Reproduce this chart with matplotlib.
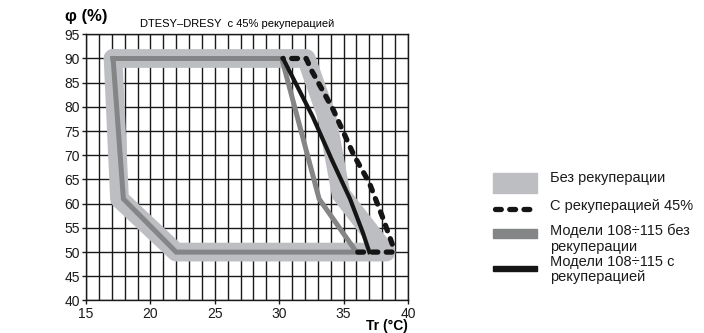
import matplotlib
matplotlib.use('Agg')
import matplotlib.pyplot as plt
from matplotlib.patches import Rectangle
from matplotlib.lines import Line2D

plt.rcParams['font.family'] = ['Liberation Sans', 'DejaVu Sans']

# Без рекуперации (wide light band)
t_base = [17.1, 17.6, 22.0, 38.3, 34.8, 33.7, 32.1, 17.1]
phi_base = [90, 61, 50, 50, 62, 78, 90, 90]

# С рекуперацией 45% (dashed)
t_rec = [36.1, 38.8, 38.8, 38.0, 37.0, 35.8, 34.2, 32.5, 32.1, 30.3]
phi_rec = [50, 50, 51.5, 57.4, 64.3, 70, 79.4, 87.6, 90, 90]

# Модели 108÷115 без рекуперации (dark grey)
t_mod = [17.1, 17.9, 22.0, 36.0, 33.1, 30.2, 17.1]
phi_mod = [90, 61, 50, 50, 61, 90, 90]

# Модели 108÷115 с рекуперацией (black)
t_mod_rec = [30.3, 32.6, 34.1, 35.5, 36.5, 37.0]
phi_mod_rec = [90, 78, 69, 61, 54, 50]

legend_labels = ['Без рекуперации', 'С рекуперацией 45%',
                 'Модели 108÷115 без\nрекуперации', 'Модели 108÷115 с\nрекуперацией']

c_light = '#bdbec1'
c_dark = '#848587'
c_black = '#151515'
dash = (0, (1.1, 1.6))

fig = plt.figure(figsize=(7.04, 3.33), dpi=100)
ax = fig.add_axes([0.1222, 0.0976, 0.4573, 0.7994])

ax.plot(t_base, phi_base, color=c_light, lw=13.5, solid_joinstyle='round',
        solid_capstyle='round', zorder=2)
ax.plot(t_mod, phi_mod, color=c_dark, lw=3.6, solid_joinstyle='miter', zorder=3)
ax.plot(t_mod_rec, phi_mod_rec, color=c_black, lw=3.0, zorder=4)
ax.plot(t_rec, phi_rec, color=c_black, lw=3.8, linestyle=dash,
        dash_capstyle='round', zorder=5)

ax.set_xlim(15, 40)
ax.set_ylim(40, 95)
ax.set_xticks(range(15, 41, 5))
ax.set_xticks(range(15, 41), minor=True)
ax.set_yticks(range(40, 96, 5))
ax.set_axisbelow(True)
ax.grid(True, which='both', axis='x', color='#1a1a1a', lw=1.0)
ax.grid(True, which='major', axis='y', color='#1a1a1a', lw=1.0)
ax.tick_params(which='major', direction='out', length=3, width=1, pad=1.5,
               labelsize=10, colors='#1a1a1a')
ax.tick_params(which='minor', length=0)
for s in ax.spines.values():
    s.set_color('#1a1a1a')
    s.set_linewidth(1.0)

fig.text(0.092, 0.95, 'φ (%)', fontsize=12, fontweight='bold', va='center', ha='left')
fig.text(0.199, 0.928, 'DTESY–DRESY  с 45% рекуперацией', fontsize=8, va='center', ha='left')
fig.text(0.5795, 0.022, 'Tr (°C)', fontsize=10, fontweight='bold', va='center', ha='right')

# legend drawn in figure pixel space
lg = fig.add_axes([0, 0, 1, 1])
lg.set_xlim(0, 704)
lg.set_ylim(333, 0)
lg.axis('off')
lg.add_patch(Rectangle((493, 173), 44, 20, color=c_light))
lg.add_line(Line2D([495, 535], [209, 209], color=c_black, lw=3.8,
                   linestyle=dash, dash_capstyle='round'))
lg.add_patch(Rectangle((493, 229), 44, 9, color=c_dark))
lg.add_patch(Rectangle((493, 266), 44, 4.5, color=c_black))
for y, lab in zip([179, 207, 232, 263], legend_labels):
    lg.text(550, y - 8, lab, fontsize=10.5, va='top', ha='left',
            linespacing=1.1, color='#1a1a1a')

fig.savefig('out.png', dpi=100)
